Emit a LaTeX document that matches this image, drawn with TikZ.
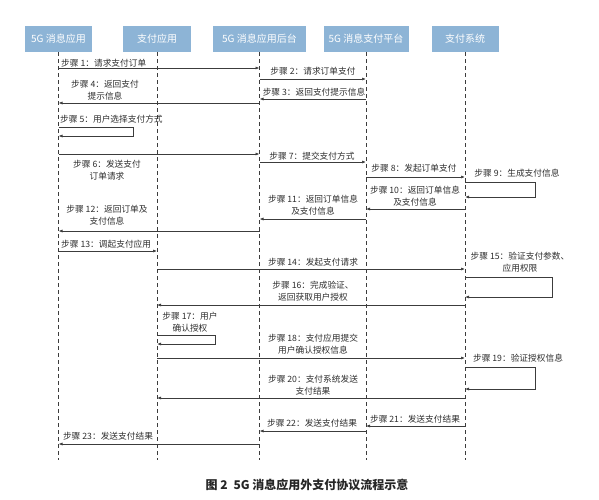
\documentclass[tikz,border=0pt]{standalone}
\usepackage{fontspec}
\setmainfont{Noto Sans CJK SC}
\usetikzlibrary{arrows.meta, positioning, calc}
\definecolor{headblue}{RGB}{141,180,214}
\definecolor{msggray}{RGB}{60,60,60}

\begin{document}
\begin{tikzpicture}[
  x=1pt, y=-1pt,
  head/.style={rectangle, fill=headblue, text=white, inner sep=0pt,
               font=\fontsize{10}{12}\selectfont, minimum height=26pt},
  lifeline/.style={draw=msggray, dash pattern=on 4pt off 3pt, line width=0.6pt},
  msg/.style={draw=msggray, line width=0.7pt, -{Latex[length=4pt, width=3pt]}},
  steplabel/.style={font=\fontsize{8.7}{12}\selectfont, text=black!82,
                    inner sep=0pt, align=center},
]
\useasboundingbox (0,0) rectangle (599,500);

% participants
\node[head, minimum width=67pt] (app)  at (58.5,39) {5G 消息应用};
\node[head, minimum width=68pt] (pay)  at (157,39)  {支付应用};
\node[head, minimum width=93pt] (bkd)  at (259.5,39) {5G 消息应用后台};
\node[head, minimum width=85pt] (plat) at (366,39)  {5G 消息支付平台};
\node[head, minimum width=67pt] (sys)  at (465,39)  {支付系统};

\coordinate (bottom) at (0,460);
\draw[lifeline] (app.south)  -- (app.south |- bottom);
\draw[lifeline] (pay.south)  -- (pay.south |- bottom);
\draw[lifeline] (bkd.south)  -- (bkd.south |- bottom);
\draw[lifeline] (plat.south) -- (plat.south |- bottom);
\draw[lifeline] (sys.south)  -- (sys.south |- bottom);

% message heights
\coordinate (y1) at (0,68);   \coordinate (y2) at (0,79);
\coordinate (y3) at (0,99);   \coordinate (y4) at (0,103);
\coordinate (y5) at (0,127);  \coordinate (y5b) at (0,136);
\coordinate (y6) at (0,154);  \coordinate (y7) at (0,162);
\coordinate (y8) at (0,177);  \coordinate (y9) at (0,182);
\coordinate (y9b) at (0,197); \coordinate (y10) at (0,209);
\coordinate (y11) at (0,219); \coordinate (y12) at (0,231);
\coordinate (y13) at (0,251); \coordinate (y14) at (0,269);
\coordinate (y15) at (0,277); \coordinate (y15b) at (0,297);
\coordinate (y16) at (0,305); \coordinate (y17) at (0,335);
\coordinate (y17b) at (0,344); \coordinate (y18) at (0,358);
\coordinate (y19) at (0,367); \coordinate (y19b) at (0,389);
\coordinate (y20) at (0,398); \coordinate (y21) at (0,426);
\coordinate (y22) at (0,431); \coordinate (y23) at (0,444);

% messages
\draw[msg] (app |- y1)  -- (bkd |- y1);
\draw[msg] (bkd |- y2)  -- (plat |- y2);
\draw[msg] (plat |- y3) -- (bkd |- y3);
\draw[msg] (bkd |- y4)  -- (app |- y4);
\draw[msg] (app |- y5)  -- ++(75,0) |- (app |- y5b);
\draw[msg] (app |- y6)  -- (bkd |- y6);
\draw[msg] (bkd |- y7)  -- (plat |- y7);
\draw[msg] (plat |- y8) -- (sys |- y8);
\draw[msg] (sys |- y9)  -- ++(70,0) |- (sys |- y9b);
\draw[msg] (sys |- y10) -- (plat |- y10);
\draw[msg] (plat |- y11) -- (bkd |- y11);
\draw[msg] (bkd |- y12) -- (app |- y12);
\draw[msg] (app |- y13) -- (pay |- y13);
\draw[msg] (pay |- y14) -- (sys |- y14);
\draw[msg] (sys |- y15) -- ++(87,0) |- (sys |- y15b);
\draw[msg] (sys |- y16) -- (pay |- y16);
\draw[msg] (pay |- y17) -- ++(58,0) |- (pay |- y17b);
\draw[msg] (pay |- y18) -- (sys |- y18);
\draw[msg] (sys |- y19) -- ++(70,0) |- (sys |- y19b);
\draw[msg] (sys |- y20) -- (pay |- y20);
\draw[msg] (sys |- y21) -- (plat |- y21);
\draw[msg] (plat |- y22) -- (bkd |- y22);
\draw[msg] (bkd |- y23) -- (app |- y23);

% labels
\node[steplabel, anchor=west] (s1)  at (61,63)  {步骤 1：请求支付订单};
\node[steplabel] (s2)  at (313,71)  {步骤 2：请求订单支付};
\node[steplabel] (s3)  at (314,92)  {步骤 3：返回支付提示信息};
\node[steplabel] (s4)  at (105,90)  {步骤 4：返回支付\\提示信息};
\node[steplabel, anchor=west] (s5)  at (60,119) {步骤 5：用户选择支付方式};
\node[steplabel] (s6)  at (107,170) {步骤 6：发送支付\\订单请求};
\node[steplabel] (s7)  at (312,156) {步骤 7：提交支付方式};
\node[steplabel] (s8)  at (414,168) {步骤 8：发起订单支付};
\node[steplabel] (s9)  at (517,173) {步骤 9：生成支付信息};
\node[steplabel] (s10) at (415,196) {步骤 10：返回订单信息\\及支付信息};
\node[steplabel] (s11) at (313,205) {步骤 11：返回订单信息\\及支付信息};
\node[steplabel] (s12) at (107,215) {步骤 12：返回订单及\\支付信息};
\node[steplabel, anchor=west] (s13) at (61,244) {步骤 13：调起支付应用};
\node[steplabel] (s14) at (313,262) {步骤 14：发起支付请求};
\node[steplabel] (s15) at (520,262) {步骤 15：验证支付参数、\\应用权限};
\node[steplabel] (s16) at (313,291) {步骤 16：完成验证、\\返回获取用户授权};
\node[steplabel] (s17) at (190,322) {步骤 17：用户\\确认授权};
\node[steplabel] (s18) at (313,344) {步骤 18：支付应用提交\\用户确认授权信息};
\node[steplabel] (s19) at (518,358) {步骤 19：验证授权信息};
\node[steplabel] (s20) at (313,385) {步骤 20：支付系统发送\\支付结果};
\node[steplabel] (s21) at (415,419) {步骤 21：发送支付结果};
\node[steplabel] (s22) at (312,423) {步骤 22：发送支付结果};
\node[steplabel] (s23) at (108,436) {步骤 23：发送支付结果};

\node[font=\bfseries\fontsize{12}{14}\selectfont, text=black!85] (caption)
  at (307,485) {图 2\enspace 5G 消息应用外支付协议流程示意};
\end{tikzpicture}
\end{document}
